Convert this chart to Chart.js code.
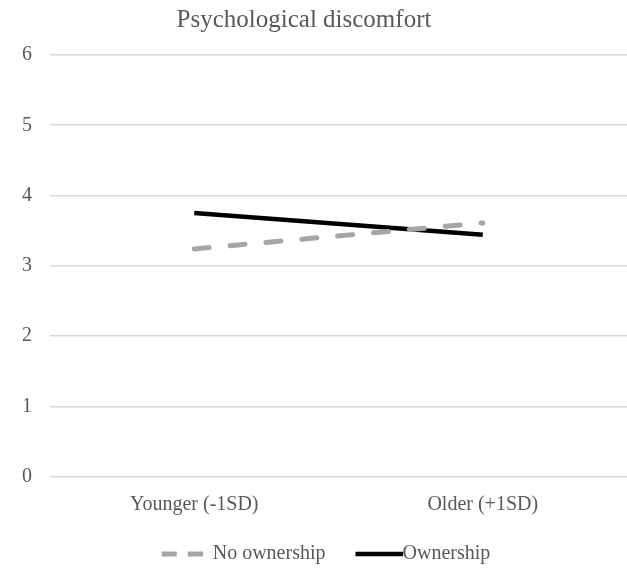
<!DOCTYPE html>
<html>
<head>
<meta charset="utf-8">
<script src="https://cdn.jsdelivr.net/npm/chart.js@4"></script>
<style>
  body { margin: 0; background: #fff; }
  #wrap { width: 627px; height: 568px; }
</style>
</head>
<body>
<div id="wrap"><canvas id="discomfortChart" width="627" height="568"></canvas></div>
<script>
var categories = ['Younger (-1SD)', 'Older (+1SD)'];
var noOwnership = [3.24, 3.61];
var ownership = [3.75, 3.44];
var yTicks = [0, 1, 2, 3, 4, 5, 6];

var textColor = '#595959';
var serif = "'Liberation Serif', 'Times New Roman', serif";

// legend samples drawn on small canvases (Excel style: dashed grey, solid black)
function legendSample(color, width, from, thick, dash) {
  var c = document.createElement('canvas');
  c.width = width;
  c.height = 8;
  var g = c.getContext('2d');
  g.strokeStyle = color;
  g.lineWidth = thick;
  g.setLineDash(dash);
  g.beginPath();
  g.moveTo(from, 4);
  g.lineTo(width, 4);
  g.stroke();
  return c;
}
var dashSample = legendSample('#a6a6a6', 60, 19, 5, [15, 11]);
var solidSample = legendSample('#000000', 80, 33, 4.5, []);

var ctx = document.getElementById('discomfortChart').getContext('2d');
var myChart = new Chart(ctx, {
  type: 'line',
  data: {
    labels: categories,
    datasets: [{
      label: 'No ownership',
      data: noOwnership,
      borderColor: '#a6a6a6',
      backgroundColor: '#a6a6a6',
      borderWidth: 5,
      borderDash: [15, 21],
      borderCapStyle: 'round',
      pointRadius: 0,
      pointStyle: dashSample,
      fill: false
    }, {
      label: 'Ownership',
      data: ownership,
      borderColor: '#000000',
      backgroundColor: '#000000',
      borderWidth: 4.5,
      pointRadius: 0,
      pointStyle: solidSample,
      fill: false
    }]
  },
  options: {
    responsive: false,
    animation: false,
    layout: { padding: { left: 6, right: 0, top: 3, bottom: -6 } },
    plugins: {
      title: {
        display: true,
        text: 'Psychological discomfort    ',
        color: textColor,
        font: { family: serif, size: 25, weight: 'normal' },
        padding: { top: 2, bottom: 20 }
      },
      legend: {
        position: 'bottom',
        labels: {
          usePointStyle: true,
          pointStyleWidth: 60,
          boxHeight: 8,
          color: textColor,
          font: { family: serif, size: 20 },
          padding: 7
        }
      },
      tooltip: { enabled: false }
    },
    scales: {
      x: {
        offset: true,
        grid: { display: false },
        border: { display: false },
        afterFit: function (axis) { axis.height = 60.5; },
        ticks: {
          color: textColor,
          font: { family: serif, size: 20 },
          padding: 8
        }
      },
      y: {
        min: 0,
        max: 6,
        afterBuildTicks: function (axis) {
          axis.ticks = yTicks.map(function (v) { return { value: v }; });
        },
        afterFit: function (axis) { axis.width = 44; },
        grid: { color: '#d9d9d9', lineWidth: 1.5, drawTicks: false },
        border: { display: false },
        ticks: {
          color: textColor,
          font: { family: serif, size: 20 },
          padding: 18
        }
      }
    }
  }
});
</script>
</body>
</html>
